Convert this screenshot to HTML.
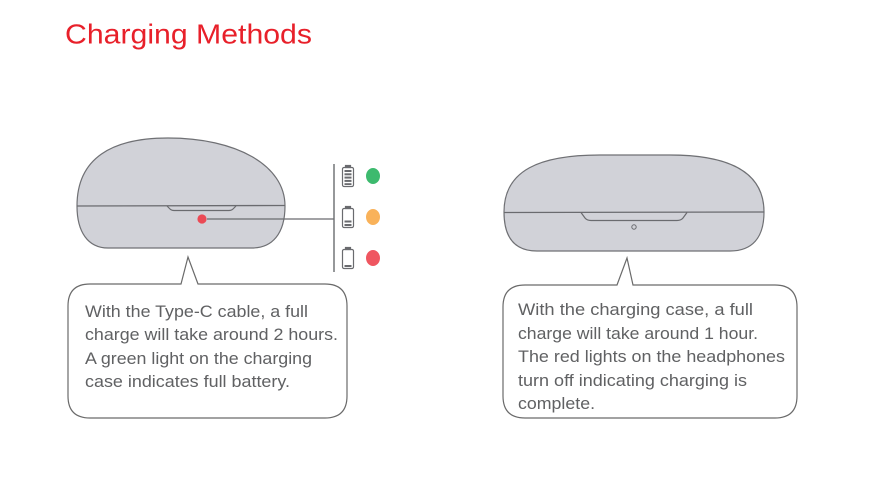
<!DOCTYPE html>
<html>
<head>
<meta charset="utf-8">
<style>
  html,body{margin:0;padding:0;background:#fff;}
  svg{display:block;}
  text{font-family:"Liberation Sans", Arial, sans-serif;}
</style>
</head>
<body>
<svg width="888" height="494" viewBox="0 0 888 494" xmlns="http://www.w3.org/2000/svg">
  <rect width="888" height="494" fill="#fff"/>

  <!-- Title -->
  <text x="65" y="43.5" font-size="28" fill="#e8202a" textLength="247" lengthAdjust="spacingAndGlyphs">Charging Methods</text>

  <!-- Left case -->
  <path d="M77,206 C77,158 112,138 168,138 C236,138 285,165 285,206 C285,234 272,248 252,248 L108,248 C88,248 77,232 77,206 Z"
        fill="#d1d2d8" stroke="#6f7074" stroke-width="1.2"/>
  <line x1="77" y1="206" x2="285" y2="205.5" stroke="#6a6b6f" stroke-width="1.3"/>
  <path d="M167,206 L170,209 Q171.5,210.5 174,210.5 L229,210.5 Q231.5,210.5 233,209 L236,206" fill="none" stroke="#6a6b6f" stroke-width="1.2"/>
  <circle cx="202" cy="219" r="4.6" fill="#eb4a55"/>
  <line x1="207" y1="219" x2="334" y2="219" stroke="#6a6b6f" stroke-width="1.3"/>
  <line x1="334" y1="164" x2="334" y2="272" stroke="#6a6b6f" stroke-width="1.4"/>

  <!-- Battery icons -->
  <g fill="none" stroke="#6a6b6f" stroke-width="1.2">
    <rect x="342.5" y="167.5" width="11" height="19" rx="1.5"/>
    <rect x="345.5" y="165.5" width="5" height="2" fill="#6a6b6f"/>
    <rect x="342.5" y="208.5" width="11" height="19" rx="1.5"/>
    <rect x="345.5" y="206.5" width="5" height="2" fill="#6a6b6f"/>
    <rect x="342.5" y="249.5" width="11" height="19" rx="1.5"/>
    <rect x="345.5" y="247.5" width="5" height="2" fill="#6a6b6f"/>
  </g>
  <g fill="#6a6b6f">
    <rect x="344.5" y="170" width="7" height="2"/>
    <rect x="344.5" y="173.3" width="7" height="2"/>
    <rect x="344.5" y="176.6" width="7" height="2"/>
    <rect x="344.5" y="179.9" width="7" height="2"/>
    <rect x="344.5" y="183.2" width="7" height="1.8"/>
    <rect x="344.5" y="220.5" width="7" height="2"/>
    <rect x="344.5" y="224" width="7" height="2"/>
    <rect x="344.5" y="265" width="7" height="2"/>
  </g>
  <ellipse cx="373" cy="176" rx="7" ry="8" fill="#3dba6e"/>
  <ellipse cx="373" cy="217" rx="7" ry="8" fill="#f9b25a"/>
  <ellipse cx="373" cy="258" rx="7" ry="8" fill="#ef5660"/>

  <!-- Left bubble -->
  <path d="M90,284 L181,284 L188,257 L198,284 L325,284 Q347,284 347,306 L347,396 Q347,418 325,418 L90,418 Q68,418 68,396 L68,306 Q68,284 90,284 Z"
        fill="#fff" stroke="#6a6a6a" stroke-width="1.2"/>
  <g font-size="17" fill="#606163">
    <text x="85" y="317" textLength="223" lengthAdjust="spacingAndGlyphs">With the Type-C cable, a full</text>
    <text x="85" y="340" textLength="253" lengthAdjust="spacingAndGlyphs">charge will take around 2 hours.</text>
    <text x="85" y="364" textLength="227" lengthAdjust="spacingAndGlyphs">A green light on the charging</text>
    <text x="85" y="387" textLength="205" lengthAdjust="spacingAndGlyphs">case indicates full battery.</text>
  </g>

  <!-- Right case -->
  <path d="M504,212 C504,170 540,155 600,155 L670,155 C736,155 764,176 764,212 C764,238 752,251 730,251 L537,251 C515,251 504,238 504,212 Z"
        fill="#d1d2d8" stroke="#6f7074" stroke-width="1.2"/>
  <line x1="504" y1="212.5" x2="764" y2="212" stroke="#6a6b6f" stroke-width="1.3"/>
  <path d="M581,212.5 L585,218 Q587,220.5 591,220.5 L677,220.5 Q681,220.5 683,218 L687,212.5" fill="none" stroke="#6a6b6f" stroke-width="1.2"/>
  <circle cx="634" cy="227" r="2.2" fill="none" stroke="#6a6b6f" stroke-width="1"/>

  <!-- Right bubble -->
  <path d="M525,285 L617,285 L627,258 L633,285 L775,285 Q797,285 797,307 L797,396 Q797,418 775,418 L525,418 Q503,418 503,396 L503,307 Q503,285 525,285 Z"
        fill="#fff" stroke="#6a6a6a" stroke-width="1.2"/>
  <g font-size="17" fill="#606163">
    <text x="518" y="315" textLength="235" lengthAdjust="spacingAndGlyphs">With the charging case,  a full</text>
    <text x="518" y="339" textLength="240" lengthAdjust="spacingAndGlyphs">charge will take around 1 hour.</text>
    <text x="518" y="362" textLength="267" lengthAdjust="spacingAndGlyphs">The red lights on the headphones</text>
    <text x="518" y="386" textLength="229" lengthAdjust="spacingAndGlyphs">turn off indicating charging is</text>
    <text x="518" y="409" textLength="77" lengthAdjust="spacingAndGlyphs">complete.</text>
  </g>
</svg>
</body>
</html>
